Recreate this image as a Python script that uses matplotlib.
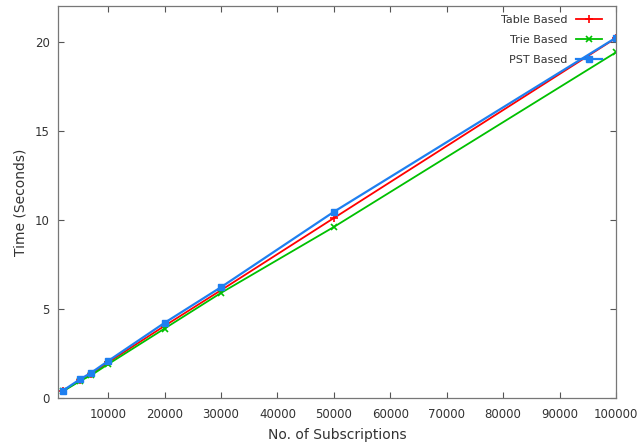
import matplotlib
matplotlib.use("Agg")
import matplotlib.pyplot as plt

subs = [2000, 5000, 7000, 10000, 20000, 30000, 50000, 100000]
table_based = [0.40, 1.00, 1.35, 2.00, 4.05, 6.05, 10.10, 20.20]
trie_based = [0.38, 0.95, 1.28, 1.90, 3.90, 5.90, 9.60, 19.40]
pst_based = [0.42, 1.05, 1.42, 2.08, 4.22, 6.22, 10.45, 20.22]

xticks = [10000, 20000, 30000, 40000, 50000, 60000, 70000, 80000, 90000, 100000]
yticks = [0, 5, 10, 15, 20]

fig = plt.figure(figsize=(6.38, 4.46), dpi=100)
ax = fig.add_axes([0.0909, 0.1076, 0.8746, 0.879])

ax.plot(subs, table_based, color="#ff0000", lw=1.3, marker="+", ms=6, mew=1.2, label="Table Based")
ax.plot(subs, trie_based, color="#00c000", lw=1.3, marker="x", ms=4, mew=1.2, label="Trie Based")
ax.plot(subs, pst_based, color="#1e7ff0", lw=1.6, marker="s", ms=4, label="PST Based")

ax.set_xlim(1100, 100000)
ax.set_ylim(0, 22)
ax.set_xticks(xticks)
ax.set_yticks(yticks)
ax.tick_params(direction="in", top=True, right=True, length=4, width=0.8,
               colors="#555555", labelcolor="#333333", labelsize=8.5)
ax.tick_params(axis="y", pad=6)
ax.tick_params(axis="x", pad=7)
for s in ax.spines.values():
    s.set_color("#777777")
    s.set_linewidth(0.9)

ax.set_xlabel("No. of Subscriptions", fontsize=10, color="#333333", labelpad=5)
ax.set_ylabel("Time (Seconds)", fontsize=10, color="#333333", labelpad=5)

leg = ax.legend(loc="upper right", markerfirst=False, frameon=False, fontsize=8,
                handlelength=2.3, labelspacing=0.9, borderaxespad=0.4,
                bbox_to_anchor=(0.99, 1.0))
for t in leg.get_texts():
    t.set_color("#333333")

fig.savefig("out.png", dpi=100)
